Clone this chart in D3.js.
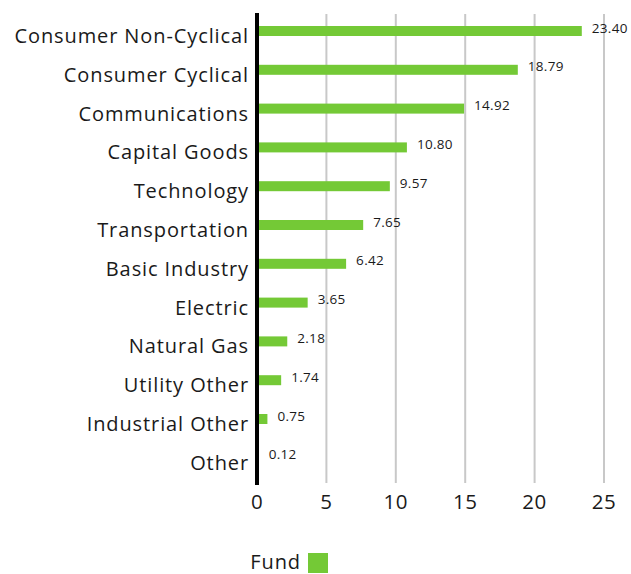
<!DOCTYPE html>
<html lang="en">
<head>
    <meta charset="UTF-8">
    <title>Fund sector breakdown</title>
    <script src="https://d3js.org/d3.v7.min.js"></script>
    <style>
        body { margin: 0; background: #fff; font-family: "Open Sans", Roboto, sans-serif; }
        .cat { font-size: 20px; letter-spacing: 0.9px; fill: #1a1a1a; text-anchor: end; }
        .tick-label { font-size: 20.5px; letter-spacing: 0.5px; fill: #1a1a1a; text-anchor: middle; }
        .data-label { font-size: 13.5px; letter-spacing: 0.3px; fill: #1a1a1a; }
    </style>
</head>
<body>
    <div id="chart"></div>
    <script>
        const categories = ["Consumer Non-Cyclical", "Consumer Cyclical", "Communications", "Capital Goods",
            "Technology", "Transportation", "Basic Industry", "Electric", "Natural Gas",
            "Utility Other", "Industrial Other", "Other"];
        const fundValues = [23.40, 18.79, 14.92, 10.80, 9.57, 7.65, 6.42, 3.65, 2.18, 1.74, 0.75, 0.12];
        const xTicks = [0, 5, 10, 15, 20, 25];
        const seriesName = "Fund";

        const data = categories.map((c, i) => ({ name: c, value: fundValues[i] }));
        const green = "#74c936";

        const svg = d3.select("#chart").append("svg")
            .attr("width", 631).attr("height", 574);

        const x = d3.scaleLinear().domain([0, 25]).range([257, 604]);
        const y = d3.scaleBand().domain(categories).range([11.6, 477.2]);

        // gridlines
        svg.selectAll(".grid").data(xTicks.slice(1)).enter().append("line")
            .attr("x1", d => x(d)).attr("x2", d => x(d))
            .attr("y1", 14).attr("y2", 483)
            .attr("stroke", "#c8c8c8").attr("stroke-width", 2);

        // bars
        svg.selectAll(".bar").data(data).enter().append("rect")
            .attr("x", x(0))
            .attr("y", d => y(d.name) + y.bandwidth() / 2 - 5)
            .attr("width", d => x(d.value) - x(0))
            .attr("height", 10)
            .attr("fill", green);

        // value labels
        svg.selectAll(".data-label").data(data).enter().append("text")
            .attr("class", "data-label")
            .attr("x", d => x(d.value) + 10)
            .attr("y", d => y(d.name) + y.bandwidth() / 2 - 2)
            .attr("dominant-baseline", "middle")
            .text(d => d.value.toFixed(2));

        // category labels
        svg.selectAll(".cat").data(categories).enter().append("text")
            .attr("class", "cat")
            .attr("x", 249)
            .attr("y", d => y(d) + y.bandwidth() / 2 + 12)
            .text(d => d);

        // y axis line
        svg.append("line")
            .attr("x1", x(0)).attr("x2", x(0))
            .attr("y1", 13).attr("y2", 485)
            .attr("stroke", "#000").attr("stroke-width", 4);

        // x tick labels
        svg.selectAll(".tick-label").data(xTicks).enter().append("text")
            .attr("class", "tick-label")
            .attr("x", d => x(d))
            .attr("y", 504)
            .attr("dominant-baseline", "middle")
            .text(d => d);

        // legend
        svg.append("text")
            .attr("x", 301).attr("y", 564)
            .attr("text-anchor", "end")
            .attr("dominant-baseline", "middle")
            .style("font-size", "20px").style("letter-spacing", "0.9px").style("fill", "#1a1a1a")
            .text(seriesName);
        svg.append("rect")
            .attr("x", 308).attr("y", 553)
            .attr("width", 20).attr("height", 20)
            .attr("fill", green);
    </script>
</body>
</html>
